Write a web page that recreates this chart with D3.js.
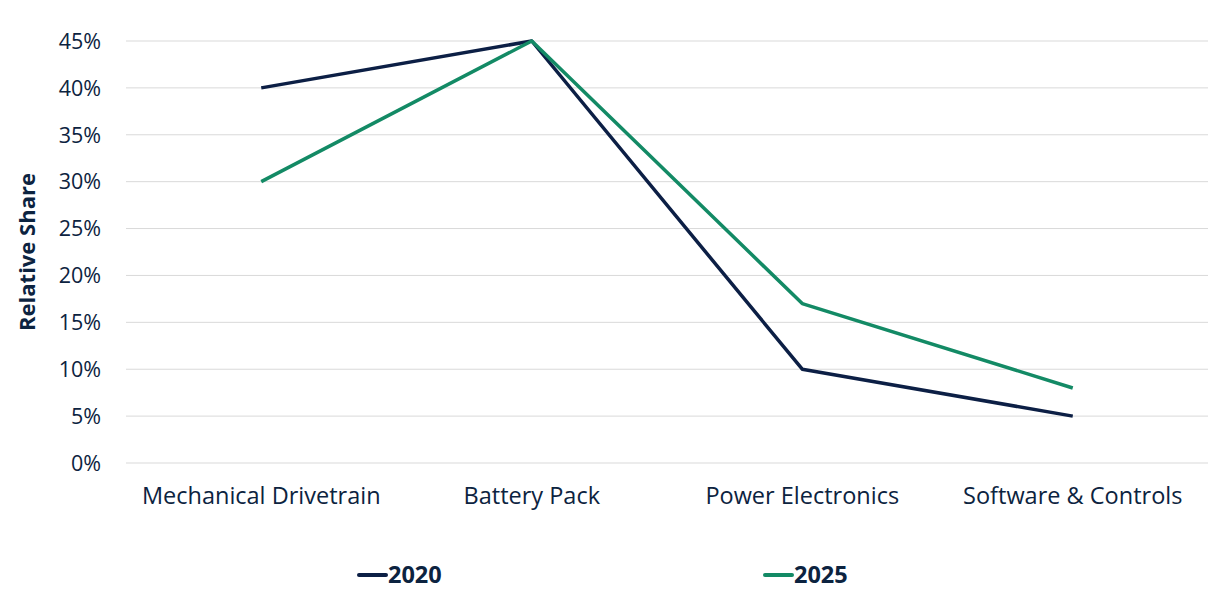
<!DOCTYPE html>
<html><head><meta charset="utf-8">
<script src="https://cdn.jsdelivr.net/npm/d3@7"></script>
<style>body{margin:0;background:#fff}svg{display:block}text{font-family:"Open Sans",sans-serif;fill:#0c2340}</style>
</head><body><svg id="c" width="1223" height="599"></svg>
<script>
const categories = ["Mechanical Drivetrain","Battery Pack","Power Electronics","Software & Controls"];
const series2020 = [0.40,0.45,0.10,0.05];
const series2025 = [0.30,0.45,0.17,0.08];
const seriesNames = ["2020","2025"];
const yTicks = [0,0.05,0.10,0.15,0.20,0.25,0.30,0.35,0.40,0.45];
const colors = ["#0c1f45","#138a65"];

const svg = d3.select("#c");
const x = d3.scaleBand().domain(categories).range([126,1208]);
const y = d3.scaleLinear().domain([0,0.45]).range([463,41]);

svg.append("g").selectAll("line").data(yTicks).join("line")
  .attr("x1",126).attr("x2",1208).attr("y1",d=>y(d)).attr("y2",d=>y(d))
  .attr("stroke","#d9d9d9").attr("stroke-width",1);

svg.append("g").selectAll("text").data(yTicks).join("text")
  .attr("x",101).attr("y",d=>y(d)).attr("dy","0.36em").attr("text-anchor","end")
  .style("font-size","21.5px").text(d3.format(".0%"));

svg.append("g").selectAll("text").data(categories).join("text")
  .attr("x",d=>x(d)+x.bandwidth()/2).attr("y",496).attr("dy","0.36em").attr("text-anchor","middle")
  .style("font-size","23.5px").text(d=>d);

svg.append("text").attr("transform","translate(27,252) rotate(-90)")
  .attr("text-anchor","middle").attr("dy","0.36em").style("font-size","22px").style("font-weight","bold")
  .text("Relative Share");

const line = d3.line().x((d,i)=>x(categories[i])+x.bandwidth()/2).y(d=>y(d));
[series2020,series2025].forEach((s,k)=>{
  svg.append("path").datum(s).attr("d",line).attr("fill","none")
    .attr("stroke",colors[k]).attr("stroke-width",3.5).attr("stroke-linejoin","round");
});

const legX = [359,765];
seriesNames.forEach((n,k)=>{
  svg.append("line").attr("x1",legX[k]).attr("x2",legX[k]+27).attr("y1",575).attr("y2",575)
    .attr("stroke",colors[k]).attr("stroke-width",4).attr("stroke-linecap","round");
  svg.append("text").attr("x",legX[k]+29).attr("y",575).attr("dy","0.36em")
    .style("font-size","23.5px").style("font-weight","bold").text(n);
});
</script></body></html>
